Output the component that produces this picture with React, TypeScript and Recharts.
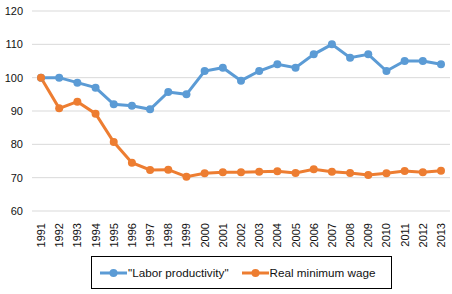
import React from "react";
import { LineChart, Line, XAxis, YAxis, CartesianGrid, Legend } from "recharts";

const years = [
  "1991", "1992", "1993", "1994", "1995", "1996", "1997", "1998", "1999", "2000",
  "2001", "2002", "2003", "2004", "2005", "2006", "2007", "2008", "2009", "2010",
  "2011", "2012", "2013",
];
const laborProductivity = [
  100, 100, 98.5, 97, 92, 91.6, 90.5, 95.7, 95, 102, 103, 99.1, 102, 104, 103,
  107, 110, 106, 107, 102, 105, 105, 104,
];
const realMinimumWage = [
  100, 90.8, 92.8, 89.2, 80.7, 74.5, 72.3, 72.4, 70.3, 71.3, 71.6, 71.6, 71.8,
  71.9, 71.4, 72.5, 71.8, 71.4, 70.8, 71.3, 72.0, 71.6, 72.1,
];
const yTicks = [60, 70, 80, 90, 100, 110, 120];

const BLUE = "#5B9BD5";
const ORANGE = "#ED7D31";
const FONT = "'Liberation Sans', Arial, Helvetica, sans-serif";

const data = years.map((y, i) => ({
  year: y,
  lp: laborProductivity[i],
  mw: realMinimumWage[i],
}));

const YTick = (props: any) => {
  const { y, payload } = props;
  return (
    <text x={23} y={y} dy={4} textAnchor="end" fontSize={11} fill="#111" fontFamily={FONT}>
      {payload.value}
    </text>
  );
};

const XTick = (props: any) => {
  const { x, y, payload } = props;
  return (
    <text
      x={x}
      y={y + 4}
      dy={4}
      textAnchor="end"
      fontSize={11}
      fill="#111"
      fontFamily={FONT}
      transform={`rotate(-90, ${x}, ${y + 4})`}
    >
      {payload.value}
    </text>
  );
};

const Swatch = ({ color }: { color: string }) => (
  <svg width={27} height={10} style={{ display: "block" }}>
    <line x1={0} y1={5} x2={27} y2={5} stroke={color} strokeWidth={3} />
    <circle cx={13.5} cy={5} r={4} fill={color} />
  </svg>
);

const LegendBox = () => (
  <div
    style={{
      boxSizing: "border-box",
      height: 33,
      width: 301,
      border: "1px solid #000",
      display: "flex",
      alignItems: "center",
      paddingLeft: 8,
      fontFamily: FONT,
      fontSize: 11.7,
      color: "#111",
      background: "#fff",
    }}
  >
    <Swatch color={BLUE} />
    <span style={{ marginLeft: 1 }}>"Labor productivity"</span>
    <span style={{ marginLeft: 13, display: "flex" }}>
      <Swatch color={ORANGE} />
    </span>
    <span style={{ marginLeft: 1 }}>Real minimum wage</span>
  </div>
);

export default function App() {
  return (
    <div style={{ position: "absolute", left: 0, top: 0, background: "#fff" }}>
      <LineChart
        width={452}
        height={294}
        data={data}
        margin={{ top: 11, right: 2, left: 0, bottom: 5 }}
      >
        <CartesianGrid horizontal vertical={false} stroke="#d9d9d9" strokeWidth={1} />
        <XAxis
          dataKey="year"
          interval={0}
          height={45}
          padding={{ left: 9, right: 9 }}
          axisLine={false}
          tickLine={false}
          tick={<XTick />}
        />
        <YAxis
          domain={[60, 120]}
          ticks={yTicks}
          width={32}
          axisLine={false}
          tickLine={false}
          tick={<YTick />}
        />
        <Legend
          verticalAlign="bottom"
          content={() => <LegendBox />}
          wrapperStyle={{ left: 91, width: 301 }}
        />
        <Line
          dataKey="lp"
          stroke={BLUE}
          strokeWidth={3}
          dot={{ r: 4, fill: BLUE, stroke: BLUE, strokeWidth: 0 }}
          isAnimationActive={false}
        />
        <Line
          dataKey="mw"
          stroke={ORANGE}
          strokeWidth={3}
          dot={{ r: 4, fill: ORANGE, stroke: ORANGE, strokeWidth: 0 }}
          isAnimationActive={false}
        />
      </LineChart>
    </div>
  );
}
